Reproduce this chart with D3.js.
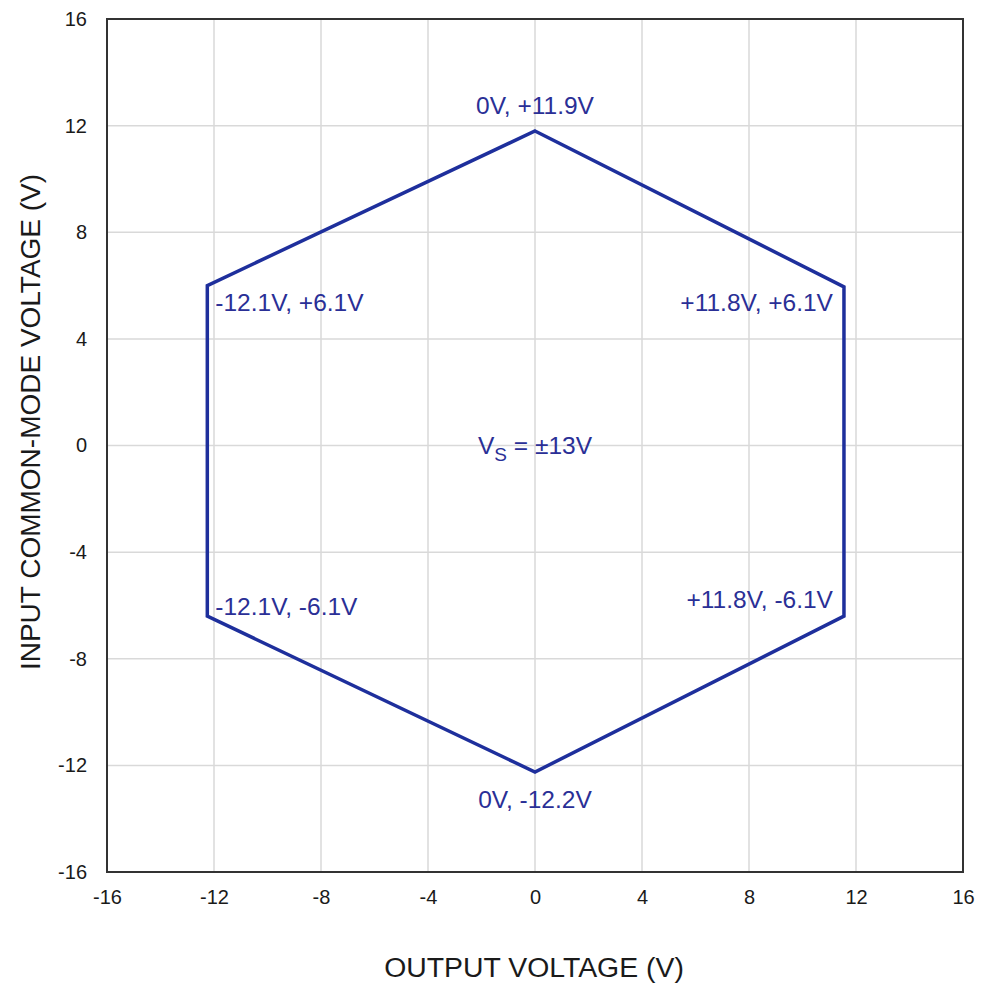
<!DOCTYPE html>
<html>
<head>
<meta charset="utf-8">
<script src="https://cdn.jsdelivr.net/npm/d3@7"></script>
<style>
  body { margin: 0; background: #fff; }
  svg { font-family: "Liberation Sans", Arial, sans-serif; }
</style>
</head>
<body>
<div id="chart"></div>
<script>
// Hexagon corners (output V, input common-mode V) as drawn
let outputV = [0, 11.55, 11.55, 0, -12.25, -12.25];
let inputV = [11.8, 5.95, -6.4, -12.25, -6.4, 6.0];

// Corner annotations
let labelText = ["0V, +11.9V", "+11.8V, +6.1V", "+11.8V, -6.1V", "0V, -12.2V", "-12.1V, -6.1V", "-12.1V, +6.1V"];
let ticks = [-16, -12, -8, -4, 0, 4, 8, 12, 16];

let WIDTH = 984, HEIGHT = 985;
let M = {left: 107, right: 963, top: 19, bottom: 872};
let LINE = "#1e2f9c", TEXT = "#2a2f96";
let FONT = "Liberation Sans, Arial, sans-serif";

let svg = d3.select("#chart").append("svg")
    .attr("width", WIDTH)
    .attr("height", HEIGHT);

let x = d3.scaleLinear().domain([-16, 16]).range([M.left, M.right]);
let y = d3.scaleLinear().domain([-16, 16]).range([M.bottom, M.top]);

// grid
svg.append("g").selectAll("line.gx")
    .data(ticks.slice(1, -1))
    .enter().append("line")
    .attr("x1", d => x(d)).attr("x2", d => x(d))
    .attr("y1", M.top).attr("y2", M.bottom)
    .attr("stroke", "#d9d9d9").attr("stroke-width", 1.5);
svg.append("g").selectAll("line.gy")
    .data(ticks.slice(1, -1))
    .enter().append("line")
    .attr("y1", d => y(d)).attr("y2", d => y(d))
    .attr("x1", M.left).attr("x2", M.right)
    .attr("stroke", "#d9d9d9").attr("stroke-width", 1.5);

// axes, labels only (plain hyphen for negatives)
let fmt = d => String(d);
let xAxis = svg.append("g")
    .attr("transform", `translate(0,${M.bottom})`)
    .call(d3.axisBottom(x).tickValues(ticks).tickFormat(fmt).tickSize(0).tickPadding(18));
let yAxis = svg.append("g")
    .attr("transform", `translate(${M.left},0)`)
    .call(d3.axisLeft(y).tickValues(ticks).tickFormat(fmt).tickSize(0).tickPadding(20));
[xAxis, yAxis].forEach(a => {
    a.attr("font-size", 20).attr("font-family", FONT);
    a.select(".domain").remove();
    a.selectAll("text").attr("fill", "#1a1a1a");
});

// frame
svg.append("rect")
    .attr("x", M.left).attr("y", M.top)
    .attr("width", M.right - M.left).attr("height", M.bottom - M.top)
    .attr("fill", "none").attr("stroke", "#333").attr("stroke-width", 2);

// hexagon
let pts = outputV.map((v, i) => [x(v), y(inputV[i])]);
svg.append("path")
    .attr("d", d3.line()(pts) + "Z")
    .attr("fill", "none")
    .attr("stroke", LINE)
    .attr("stroke-width", 3.5)
    .attr("stroke-linejoin", "miter");

// corner annotations
let labelPos = [
    {dx: 0, dy: -17, anchor: "middle"},
    {dx: -11, dy: 24, anchor: "end"},
    {dx: -11, dy: -8, anchor: "end"},
    {dx: 0, dy: 36, anchor: "middle"},
    {dx: 8, dy: -1, anchor: "start"},
    {dx: 8, dy: 25, anchor: "start"}
];
svg.append("g").selectAll("text")
    .data(labelText)
    .enter().append("text")
    .attr("x", (d, i) => pts[i][0] + labelPos[i].dx)
    .attr("y", (d, i) => pts[i][1] + labelPos[i].dy)
    .attr("text-anchor", (d, i) => labelPos[i].anchor)
    .attr("font-size", 24.5)
    .attr("fill", TEXT)
    .text(d => d);

// supply annotation
let vs = svg.append("text")
    .attr("x", x(0)).attr("y", y(0) + 8)
    .attr("text-anchor", "middle")
    .attr("font-size", 24.5)
    .attr("fill", TEXT);
vs.append("tspan").text("V");
vs.append("tspan").attr("font-size", 19).attr("dy", 7).text("S");
vs.append("tspan").attr("dy", -7).text(" = ±13V");

// axis titles
svg.append("text")
    .attr("x", (M.left + M.right) / 2 - 1).attr("y", 977)
    .attr("text-anchor", "middle")
    .attr("font-size", 28.4)
    .attr("fill", "#1a1a1a")
    .text("OUTPUT VOLTAGE (V)");
svg.append("text")
    .attr("transform", `translate(40,422) rotate(-90)`)
    .attr("text-anchor", "middle")
    .attr("font-size", 28)
    .attr("fill", "#1a1a1a")
    .text("INPUT COMMON-MODE VOLTAGE (V)");
</script>
</body>
</html>
